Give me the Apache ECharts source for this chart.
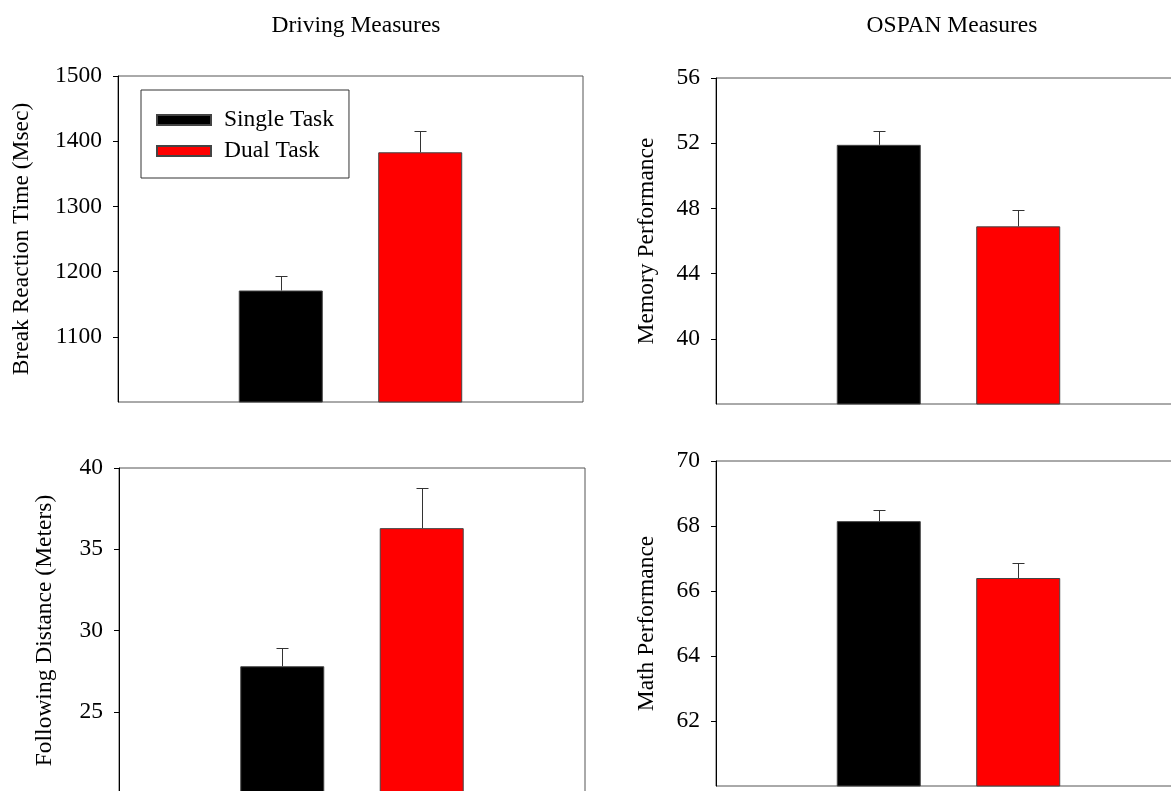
<!DOCTYPE html>
<html>
<head>
<meta charset="utf-8">
<script src="https://cdn.jsdelivr.net/npm/echarts@6/dist/echarts.min.js"></script>
<style>
html,body{margin:0;padding:0;background:#fff;}
#chart{width:1171px;height:791px;}
</style>
</head>
<body>
<div id="chart"></div>
<script>
// ---- data ----
const categories = ['Single Task', 'Dual Task'];
const columnTitles = ['Driving Measures', 'OSPAN Measures'];

const brakeMeans = [1171, 1383];
const brakeErrors = [22, 32];
const brakeTicks = [1100, 1200, 1300, 1400, 1500];

const memoryMeans = [51.9, 46.9];
const memoryErrors = [0.85, 1.0];
const memoryTicks = [40, 44, 48, 52, 56];

const followMeans = [27.8, 36.3];
const followErrors = [1.1, 2.5];
const followTicks = [25, 30, 35, 40];

const mathMeans = [68.15, 66.4];
const mathErrors = [0.35, 0.45];
const mathTicks = [62, 64, 66, 68, 70];

// ---- layout / style ----
const FONT = "'Liberation Serif', 'Times New Roman', serif";
const FS = 23.5;
const BAR_W = 84;
const GAP_PCT = 66;
const OFFSET = (BAR_W + BAR_W * GAP_PCT / 100) / 2;
const colors = ['#000000', '#ff0000'];

const panels = [
  {grid: {left: 118, top: 76, width: 465, height: 326}, name: 'Break Reaction Time (Msec)', min: 1000, max: 1500, interval: 100, ticks: brakeTicks, means: brakeMeans, errors: brakeErrors, nameGap: 84},
  {grid: {left: 716, top: 78, width: 465, height: 326}, name: 'Memory Performance', min: 36, max: 56, interval: 4, ticks: memoryTicks, means: memoryMeans, errors: memoryErrors, nameGap: 57},
  {grid: {left: 119, top: 468, width: 466, height: 325}, name: 'Following Distance (Meters)', min: 20, max: 40, interval: 5, ticks: followTicks, means: followMeans, errors: followErrors, nameGap: 62},
  {grid: {left: 716, top: 461, width: 465, height: 325}, name: 'Math Performance', min: 60, max: 70, interval: 2, ticks: mathTicks, means: mathMeans, errors: mathErrors, nameGap: 57}
];

const grids = [], xAxes = [], yAxes = [], series = [];
panels.forEach((p, pi) => {
  grids.push(Object.assign({show: true, borderColor: '#555', borderWidth: 1, backgroundColor: 'transparent',
    containLabel: false, outerBoundsMode: 'none'}, p.grid));
  xAxes.push({
    type: 'category', gridIndex: pi, data: [''],
    axisLine: {show: false}, axisTick: {show: false}, axisLabel: {show: false}, splitLine: {show: false}
  });
  yAxes.push({
    type: 'value', gridIndex: pi, min: p.min, max: p.max, interval: p.interval,
    name: p.name, nameLocation: 'middle', nameGap: p.nameGap, nameMoveOverlap: false,
    nameTextStyle: {fontFamily: FONT, fontSize: FS, color: '#000'},
    axisLine: {show: true, lineStyle: {color: '#000', width: 1}},
    axisTick: {show: true, inside: false, length: 5, customValues: p.ticks, lineStyle: {color: '#000'}},
    axisLabel: {show: true, margin: 16, customValues: p.ticks, fontFamily: FONT, fontSize: FS, color: '#000',
      formatter: v => (v === p.min ? '' : String(v))},
    splitLine: {show: false}
  });
  categories.forEach((c, ci) => {
    series.push({
      type: 'bar', name: c, xAxisIndex: pi, yAxisIndex: pi,
      barWidth: BAR_W, barGap: GAP_PCT + '%',
      itemStyle: {color: colors[ci], borderColor: '#444', borderWidth: 1},
      data: [p.means[ci]],
      silent: true
    });
  });
  series.push({
    type: 'custom', xAxisIndex: pi, yAxisIndex: pi, z: 5, silent: true,
    data: p.means.map((m, i) => [0, m, m + p.errors[i], i]),
    encode: {x: 0, y: [1, 2]},
    renderItem: function (params, api) {
      const base = api.coord([api.value(0), api.value(1)]);
      const top = api.coord([api.value(0), api.value(2)]);
      const dir = api.value(3) === 0 ? -1 : 1;
      const x = Math.round(base[0] + dir * OFFSET) + 0.5;
      const yT = Math.round(top[1]) + 0.5;
      const st = {stroke: '#333', lineWidth: 1};
      return {type: 'group', children: [
        {type: 'line', shape: {x1: x, y1: base[1], x2: x, y2: yT}, style: st},
        {type: 'line', shape: {x1: x - 6, y1: yT, x2: x + 6, y2: yT}, style: st}
      ]};
    }
  });
});

const option = {
  animation: false,
  backgroundColor: '#fff',
  title: [
    {text: columnTitles[0], left: 351, top: 9, textAlign: 'center', textStyle: {fontFamily: FONT, fontSize: FS, fontWeight: 'normal', color: '#000'}},
    {text: columnTitles[1], left: 947, top: 9, textAlign: 'center', textStyle: {fontFamily: FONT, fontSize: FS, fontWeight: 'normal', color: '#000'}}
  ],
  legend: {
    data: categories, orient: 'vertical', left: 141, top: 90,
    padding: [18, 15, 15, 15], itemGap: 7, itemWidth: 54, itemHeight: 10, icon: 'rect',
    borderColor: '#333', borderWidth: 1, backgroundColor: '#fff',
    textStyle: {fontFamily: FONT, fontSize: FS, color: '#000', padding: [0, 0, 0, 8], lineHeight: 23},
    selectedMode: false
  },
  grid: grids, xAxis: xAxes, yAxis: yAxes, series: series
};

const chart = echarts.init(document.getElementById('chart'), null, {renderer: 'canvas'});
chart.setOption(option);
</script>
</body>
</html>
